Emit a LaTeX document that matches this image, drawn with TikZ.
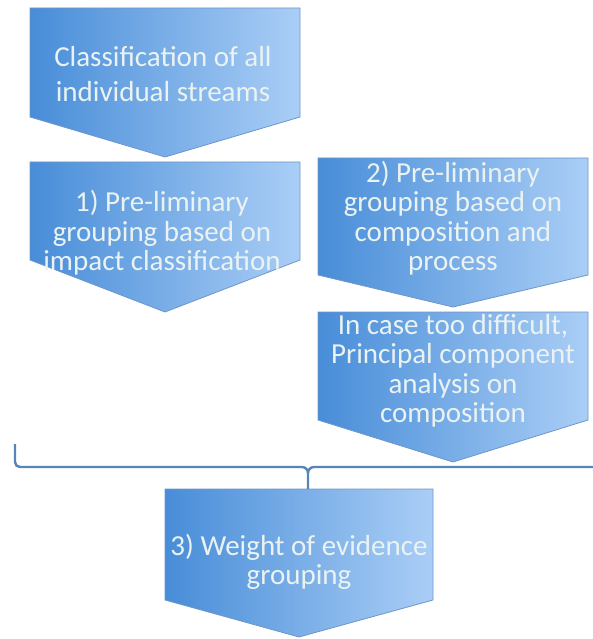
\documentclass[tikz,border=0pt]{standalone}
\usepackage{fontspec}
\setmainfont{Carlito}
\definecolor{bl}{RGB}{72,141,216}
\definecolor{br}{RGB}{170,206,246}
\definecolor{bd}{RGB}{110,150,200}
\definecolor{tx}{RGB}{234,243,242}
\definecolor{ln}{RGB}{88,132,186}
\newcommand\chevshape[6]{% name, x1, x2, ytop, yside, ytip
  \path[left color=bl, right color=br, draw=bd, line width=0.8pt]
    (#2,-#4) -- (#3,-#4) -- (#3,-#5) -- ({(#2+#3)/2},-#6) -- (#2,-#5) -- cycle;
  \coordinate (#1top) at ({(#2+#3)/2},-#4);
  \coordinate (#1tip) at ({(#2+#3)/2},-#6);}
\begin{document}
\begin{tikzpicture}[x=1pt,y=1pt,
  txt/.style={text=tx, align=center, font=\fontsize{29}{29.5}\selectfont, inner sep=0pt},
  bracel/.style={draw=ln, line width=2.4pt}]
\useasboundingbox (0,0) rectangle (593,-639);
\chevshape{a}{30}{300}{8}{117}{157}
\chevshape{b}{30}{300}{162}{260}{312}
\chevshape{c}{318}{588}{158}{275}{307}
\chevshape{d}{318}{588}{312}{420}{462}
\chevshape{e}{165}{433}{489}{600}{637}
\node[txt, font=\fontsize{29}{35}\selectfont] (ta) at (163,-74) {Classification of all\\individual streams};
\node[txt] (tb) at (162,-233) {1) Pre-liminary\\grouping based on\\impact classification};
\node[txt] (tc) at (453,-218) {2) Pre-liminary\\grouping based on\\composition and\\process};
\node[txt] (td) at (453,-371) {In case too difficult,\\Principal component\\analysis on\\composition};
\node[txt] (te) at (299,-562) {3) Weight of evidence\\grouping};
\coordinate (bl1) at (15,-444);
\coordinate (br1) at (593,-467);
\coordinate (cusp) at (308,-489);
\draw[bracel] (bl1) -- (15,-462) to[out=-90,in=180] (20,-467) -- (302,-467)
  to[out=0,in=90] (308,-473) -- (cusp);
\draw[bracel] (308,-473) to[out=90,in=180] (314,-467) -- (br1);
\end{tikzpicture}
\end{document}
